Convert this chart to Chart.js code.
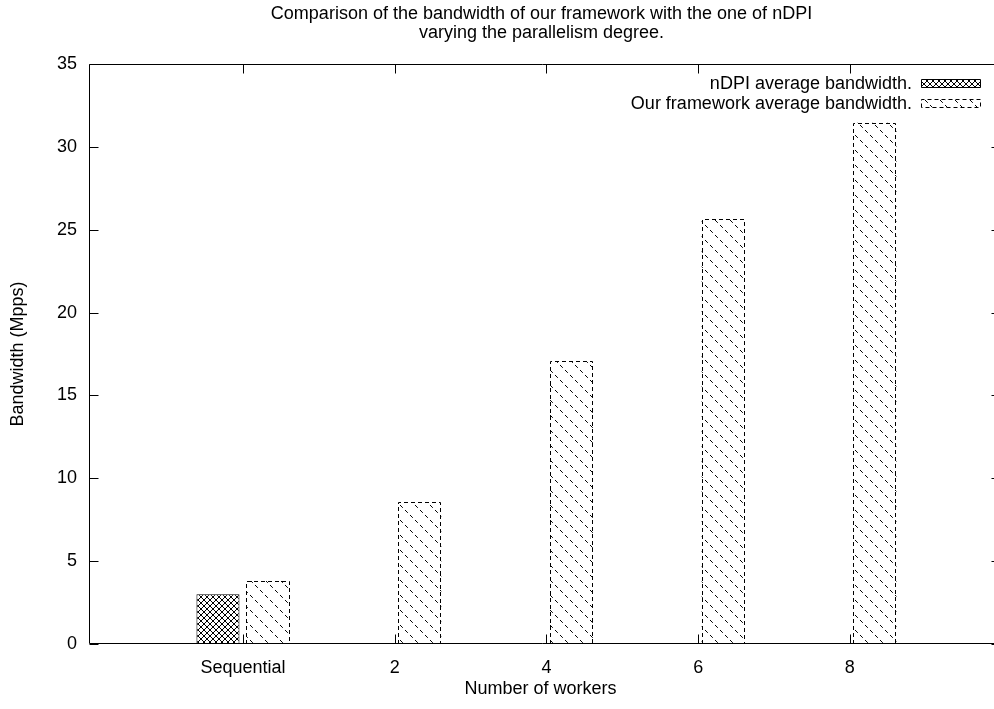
<!DOCTYPE html>
<html>
<head>
<meta charset="utf-8">
<script src="https://cdn.jsdelivr.net/npm/chart.js@4/dist/chart.umd.min.js"></script>
<style>
  html, body { margin: 0; padding: 0; background: #fff; }
</style>
</head>
<body>
<canvas id="bwChart" width="994" height="709"></canvas>
<script>
// Values
const categories = ['Sequential', '2', '4', '6', '8'];
const ndpiBandwidth = [3.0, null, null, null, null];
const frameworkBandwidth = [3.8, 8.55, 17.05, 25.65, 31.45];
const yTicks = [0, 5, 10, 15, 20, 25, 30, 35];
const seriesLabels = ['nDPI average bandwidth.', 'Our framework average bandwidth.'];
const titleLines = [
  'Comparison of the bandwidth of our framework with the one of nDPI',
  'varying the parallelism degree.'
];
const xTitle = 'Number of workers';

const FONT = "'Liberation Sans', Arial, Helvetica, sans-serif";
const FONT_SIZE = 18;
// the gnuplot frame's right side sits just past the image edge
const RIGHT_OVERHANG = 7;

// fill patterns, gnuplot style
function makeCrossHatch() {
  const s = 6;
  const c = document.createElement('canvas');
  c.width = s; c.height = s;
  const g = c.getContext('2d');
  g.fillStyle = '#fff';
  g.fillRect(0, 0, s, s);
  g.strokeStyle = '#000';
  g.lineWidth = 1;
  g.beginPath();
  g.moveTo(0, 0); g.lineTo(s, s);
  g.moveTo(s, 0); g.lineTo(0, s);
  g.stroke();
  return g.createPattern(c, 'repeat');
}

function makeDashedDiagonal() {
  const s = 15;
  const c = document.createElement('canvas');
  c.width = s; c.height = s;
  const g = c.getContext('2d');
  g.fillStyle = '#fff';
  g.fillRect(0, 0, s, s);
  g.strokeStyle = '#000';
  g.lineWidth = 1;
  g.setLineDash([4, 3.07]);
  g.beginPath();
  g.moveTo(0, 0); g.lineTo(s, s);
  g.stroke();
  return g.createPattern(c, 'repeat');
}

const crossHatch = makeCrossHatch();
const diagonal = makeDashedDiagonal();

const toPoints = arr => arr.map((v, i) => ({ x: i, y: v }));

function dashedRect(ctx, l, t, r, b, skipBottom) {
  ctx.beginPath();
  ctx.moveTo(l, b);
  ctx.lineTo(l, t);
  ctx.lineTo(r, t);
  ctx.lineTo(r, b);
  if (!skipBottom) ctx.closePath();
  ctx.stroke();
}

// frame, inward ticks, dashed bar outlines, legend and titles
const gnuplotLook = {
  id: 'gnuplotLook',
  afterDatasetsDraw(chart) {
    const { ctx, chartArea: a, scales: { x, y } } = chart;
    ctx.save();
    ctx.strokeStyle = '#000';
    ctx.lineWidth = 1;

    // dashed outline of our framework bars
    ctx.setLineDash([4, 3]);
    chart.getDatasetMeta(1).data.forEach((bar, i) => {
      if (frameworkBandwidth[i] == null) return;
      const p = bar.getProps(['x', 'y', 'base', 'width'], true);
      const l = Math.round(p.x - p.width / 2) + 0.5;
      const r = Math.round(p.x + p.width / 2) - 0.5;
      const t = Math.round(p.y) + 0.5;
      dashedRect(ctx, l, t, r, Math.round(p.base), true);
    });
    ctx.setLineDash([]);

    // frame (right side falls outside the image)
    const L = Math.round(a.left) + 0.5, R = Math.round(a.right + RIGHT_OVERHANG) - 0.5;
    const T = Math.round(a.top) + 0.5, B = Math.round(a.bottom) - 0.5;
    ctx.beginPath();
    ctx.moveTo(R, T); ctx.lineTo(L, T); ctx.lineTo(L, B); ctx.lineTo(R, B);
    ctx.stroke();

    // ticks pointing inward, mirrored on opposite side
    ctx.beginPath();
    yTicks.forEach(v => {
      const py = Math.round(y.getPixelForValue(v)) + 0.5;
      ctx.moveTo(L, py); ctx.lineTo(L + 9, py);
      ctx.moveTo(R, py); ctx.lineTo(R - 9, py);
    });
    categories.forEach((c, i) => {
      const px = Math.round(x.getPixelForValue(i)) + 0.5;
      ctx.moveTo(px, B); ctx.lineTo(px, B - 9);
      ctx.moveTo(px, T); ctx.lineTo(px, T + 9);
    });
    ctx.stroke();
    ctx.restore();
  },
  afterDraw(chart) {
    const { ctx, chartArea: a } = chart;
    const right = a.right + RIGHT_OVERHANG;
    ctx.save();
    ctx.font = FONT_SIZE + 'px ' + FONT;
    ctx.fillStyle = '#000';
    ctx.strokeStyle = '#000';
    ctx.lineWidth = 1;

    // titles, centred on the visible part of the plot
    ctx.textAlign = 'center';
    ctx.textBaseline = 'middle';
    const cx = (a.left + chart.width) / 2;
    titleLines.forEach((line, i) => ctx.fillText(line, cx, 14 + i * 19.5));
    ctx.fillText(xTitle, cx - 1, chart.height - 20);

    // legend (key box to the right of the text)
    const rowY = [a.top + 19, a.top + 39];
    const boxL = Math.round(right - 80) + 0.5;
    const boxR = Math.round(right - 21) + 0.5;
    chart.data.datasets.forEach((ds, i) => {
      ctx.textAlign = 'right';
      ctx.fillText(ds.label, right - 89, rowY[i] + 1);
      const t = Math.round(rowY[i] - 4) + 0.5;
      const b = t + 8;
      ctx.fillStyle = ds.backgroundColor;
      ctx.fillRect(boxL, t, boxR - boxL, b - t);
      ctx.fillStyle = '#000';
      ctx.setLineDash(i === 1 ? [4, 3] : []);
      dashedRect(ctx, boxL, t, boxR, b, false);
      ctx.setLineDash([]);
    });
    ctx.restore();
  }
};

const tickFont = { family: FONT, size: FONT_SIZE };

new Chart(document.getElementById('bwChart').getContext('2d'), {
  type: 'bar',
  data: {
    datasets: [
      {
        label: seriesLabels[0],
        data: toPoints(ndpiBandwidth),
        backgroundColor: crossHatch,
        borderColor: '#000',
        borderWidth: 1
      },
      {
        label: seriesLabels[1],
        data: toPoints(frameworkBandwidth),
        backgroundColor: diagonal,
        borderWidth: 0
      }
    ]
  },
  options: {
    responsive: false,
    animation: false,
    categoryPercentage: 0.66,
    barPercentage: 0.86,
    layout: { padding: { top: 64, right: 0, left: 0, bottom: 0 } },
    plugins: {
      legend: { display: false },
      tooltip: { enabled: false },
      title: { display: false }
    },
    scales: {
      x: {
        type: 'linear',
        min: -1.015,
        max: 4.95,
        offset: false,
        grid: { display: false, drawTicks: false },
        border: { display: false },
        afterBuildTicks: s => {
          s.ticks = categories.map((c, i) => ({ value: i }));
        },
        ticks: {
          autoSkip: false,
          maxRotation: 0,
          padding: 13,
          color: '#000',
          font: tickFont,
          callback: v => categories[v] ?? ''
        },
        afterFit: s => {
          s.height = 65;
          s.paddingLeft = 0;
          s.paddingRight = 0;
        }
      },
      y: {
        min: 0,
        max: 35,
        grid: { display: false, drawTicks: false },
        border: { display: false },
        ticks: {
          stepSize: 5,
          padding: 12,
          color: '#000',
          font: tickFont
        },
        title: {
          display: true,
          text: 'Bandwidth (Mpps)',
          color: '#000',
          font: tickFont,
          padding: { top: 7, bottom: 0 }
        },
        afterFit: s => {
          s.width = 89;
          s.paddingTop = 0;
          s.paddingBottom = 0;
        }
      }
    }
  },
  plugins: [gnuplotLook]
});
</script>
</body>
</html>
